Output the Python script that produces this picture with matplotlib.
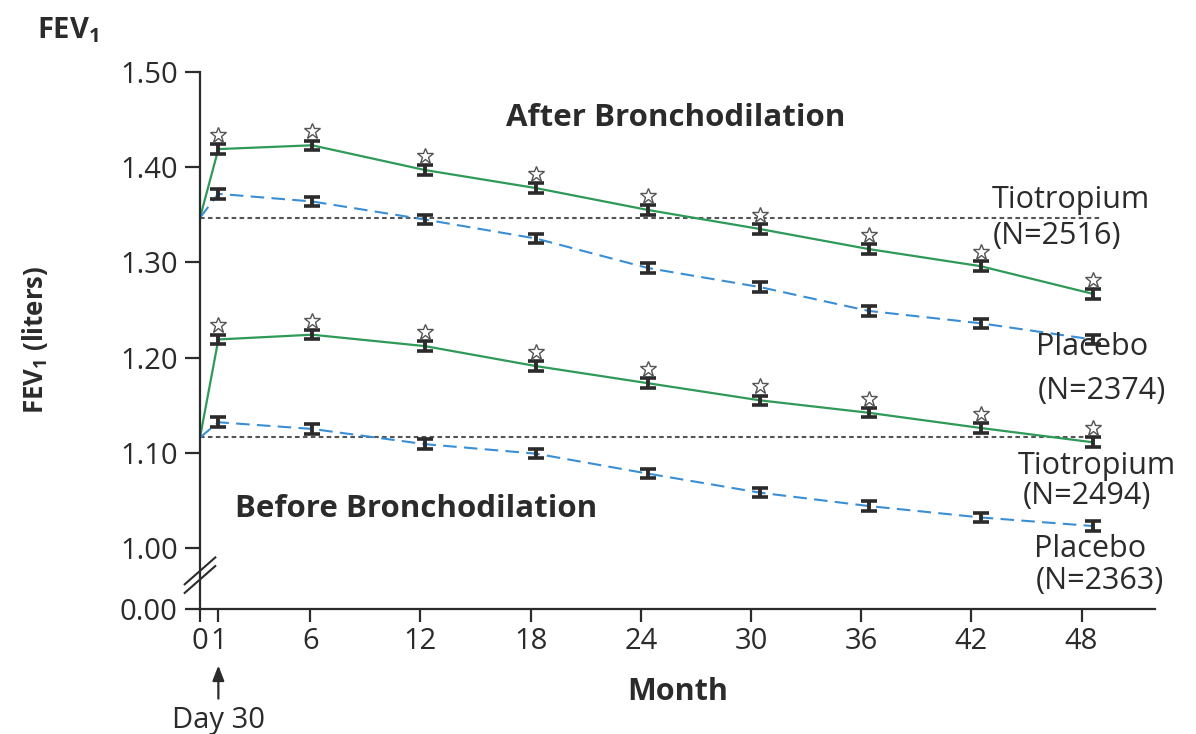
import matplotlib
matplotlib.use("Agg")
import matplotlib.pyplot as plt
import matplotlib.transforms as mtransforms

plt.rcParams['font.family'] = ['Open Sans', 'DejaVu Sans']
plt.rcParams['mathtext.default'] = 'regular'

# visit months (month 0 = randomization baseline)
months = [0, 1, 6.1, 12.25, 18.3, 24.4, 30.5, 36.4, 42.5, 48.6]
month_ticks = [0, 1, 6, 12, 18, 24, 30, 36, 42, 48]

after_tio = [1.347, 1.419, 1.423, 1.397, 1.378, 1.355, 1.335, 1.314, 1.296, 1.267]
after_pla = [1.347, 1.372, 1.364, 1.345, 1.325, 1.294, 1.274, 1.249, 1.236, 1.219]
before_tio = [1.116, 1.219, 1.224, 1.212, 1.191, 1.173, 1.155, 1.142, 1.126, 1.111]
before_pla = [1.116, 1.132, 1.125, 1.109, 1.099, 1.078, 1.058, 1.044, 1.032, 1.023]
sem = [0.005, 0.005, 0.005, 0.005, 0.005, 0.005, 0.005, 0.005, 0.005]

baseline_after = 1.347
baseline_before = 1.116

y_ticks = [1.00, 1.10, 1.20, 1.30, 1.40, 1.50]
y_bottom = 0.9358  # position standing in for 0.00 below the axis break

green = '#2f9a58'
blue = '#3a8ed4'
ink = '#2b2b2b'
grey = '#555555'

fig = plt.figure(figsize=(11.96, 7.34), dpi=100)
ax = fig.add_axes([200 / 1196, 1 - 609 / 734, 955 / 1196, 537 / 734])

# reference lines at baseline
ax.plot([0, 49.1], [baseline_after] * 2, color=grey, lw=1.5, dashes=(2.2, 1.6), zorder=1)
ax.plot([0, 48.5], [baseline_before] * 2, color=grey, lw=1.5, dashes=(2.2, 1.6), zorder=1)

for tio, pla in [(after_tio, after_pla), (before_tio, before_pla)]:
    ax.plot(months, tio, color=green, lw=1.6, zorder=2)
    ax.plot(months, pla, color=blue, lw=1.5, dashes=(6.5, 3.5), zorder=2)
    for series in (tio, pla):
        ax.errorbar(months[1:], series[1:], yerr=sem, fmt='none', ecolor=ink,
                    elinewidth=2.8, capsize=5.5, capthick=2.6, zorder=3)
    star_tr = ax.transData + mtransforms.ScaledTranslation(0, 0.14, fig.dpi_scale_trans)
    ax.plot(months[1:], tio[1:], ls='none', marker='*', ms=12, mfc='white',
            mec=grey, mew=1.0, transform=star_tr, zorder=4, clip_on=False)

ax.set_xlim(0, 52)
ax.set_ylim(y_bottom, 1.5)
ax.set_xticks(month_ticks)
ax.set_xticklabels([str(m) for m in month_ticks])
ax.set_yticks([y_bottom] + y_ticks)
ax.set_yticklabels(['0.00'] + ['%.2f' % v for v in y_ticks])

for s in ['top', 'right']:
    ax.spines[s].set_visible(False)
for s in ['left', 'bottom']:
    ax.spines[s].set_linewidth(1.6)
    ax.spines[s].set_color(ink)
ax.tick_params(axis='y', length=11, width=1.6, pad=5, labelsize=21, colors=ink)
ax.tick_params(axis='x', length=9, width=1.6, pad=4, labelsize=21, colors=ink)

# axis break marks
for dy in (0.0, 0.016):
    ax.plot([-0.016, 0.016], [0.030 + dy, 0.080 + dy], transform=ax.transAxes,
            color=ink, lw=1.5, clip_on=False)

ax.set_xlabel('Month', fontsize=22, fontweight='bold', color=ink, labelpad=15)
fig.text(35 / 1196, 1 - 340 / 734, 'FEV$_1$ (liters)', rotation=90, fontsize=18.5,
         fontweight='bold', color=ink, ha='center', va='center')
fig.text(37 / 1196, 1 - 30 / 734, 'FEV$_1$', fontsize=21, fontweight='bold',
         color=ink, ha='left', va='center')

ax.text(25.9, 1.452, 'After Bronchodilation', fontsize=22.5, fontweight='bold',
        color=ink, ha='center', va='center')
ax.text(11.76, 1.041, 'Before Bronchodilation', fontsize=22.5, fontweight='bold',
        color=ink, ha='center', va='center')

labels = [
    (43.1, 1.365, 'Tiotropium'), (43.15, 1.328, '(N=2516)'),
    (45.5, 1.211, 'Placebo'), (45.6, 1.165, '(N=2374)'),
    (44.55, 1.086, 'Tiotropium'), (44.8, 1.055, '(N=2494)'),
    (45.4, 0.999, 'Placebo'), (45.5, 0.965, '(N=2363)'),
]
for x, y, t in labels:
    ax.text(x, y, t, fontsize=22, color=ink, ha='left', va='center', clip_on=False)

# Day 30 marker
ax.annotate('', xy=(1, -0.100), xytext=(1, -0.172), xycoords=('data', 'axes fraction'),
            textcoords=('data', 'axes fraction'),
            arrowprops=dict(arrowstyle='-|>,head_length=0.9,head_width=0.35',
                            color=ink, lw=1.6))
ax.text(1, -0.207, 'Day 30', transform=mtransforms.blended_transform_factory(ax.transData, ax.transAxes),
        fontsize=21, color=ink, ha='center', va='center')

fig.savefig('out.png', dpi=100, facecolor='white')
